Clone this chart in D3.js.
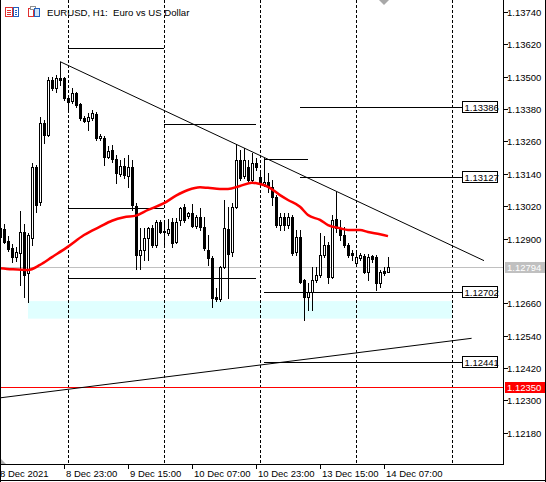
<!DOCTYPE html>
<html>
<head>
<meta charset="utf-8">
<script src="https://cdn.jsdelivr.net/npm/d3@7"></script>
<style>
  body { margin: 0; background: #fff; }
  svg { display: block; font-family: "Liberation Sans", Arial, sans-serif; }
</style>
</head>
<body>
<div id="chart"></div>
<script>
// EURUSD H1 candles, bar 0 = 8 Dec 07:00
const opens = [1.12938,1.12935,1.12892,1.12864,1.12833,1.12848,1.12924,1.12772,1.12902,1.13166,
  1.13037,1.13327,1.13284,1.13488,1.13457,1.13496,1.13494,1.13420,1.13410,1.13439,
  1.13398,1.13348,1.13337,1.13348,1.13362,1.13272,1.13274,1.13203,1.13228,1.13195,
  1.13138,1.13169,1.13132,1.13166,1.13021,1.12839,1.12857,1.12901,1.12938,1.12876,
  1.12960,1.12929,1.12922,1.12962,1.12888,1.12969,1.13016,1.12984,1.12994,1.12946,
  1.12981,1.12944,1.12857,1.12827,1.12683,1.12676,1.12793,1.12935,1.12850,1.13018,
  1.13191,1.13132,1.13166,1.13117,1.13179,1.13129,1.13102,1.13110,1.13092,1.13055,
  1.12950,1.12981,1.12950,1.12979,1.12851,1.12907,1.12746,1.12684,1.12703,1.12746,
  1.12765,1.12839,1.12876,1.12758,1.12972,1.12938,1.12913,1.12876,1.12845,1.12808,
  1.12827,1.12835,1.12777,1.12835,1.12833,1.12734,1.12780,1.12777];
const highs = [1.12946,1.12954,1.12909,1.12880,1.12869,1.13002,1.12954,1.12921,1.13179,1.13173,
  1.13352,1.13340,1.13500,1.13500,1.13506,1.13556,1.13500,1.13425,1.13457,1.13443,
  1.13403,1.13354,1.13364,1.13377,1.13369,1.13288,1.13280,1.13243,1.13247,1.13210,
  1.13191,1.13199,1.13210,1.13191,1.13032,1.12938,1.12938,1.12944,1.12950,1.12969,
  1.12969,1.12962,1.12971,1.12976,1.12976,1.13018,1.13028,1.12999,1.13028,1.12987,
  1.13013,1.12980,1.12913,1.12835,1.12717,1.12798,1.13043,1.13017,1.13032,1.13251,
  1.13228,1.13236,1.13191,1.13216,1.13198,1.13147,1.13200,1.13142,1.13117,1.13061,
  1.12994,1.12994,1.12995,1.12987,1.12932,1.12932,1.12750,1.12734,1.12796,1.12796,
  1.12919,1.12909,1.12888,1.12987,1.13074,1.12969,1.12944,1.12883,1.12857,1.12845,
  1.12846,1.12843,1.12843,1.12839,1.12839,1.12783,1.12796,1.12833];
const lows = [1.12898,1.12883,1.12854,1.12813,1.12817,1.12728,1.12684,1.12666,1.12876,1.12998,
  1.13024,1.13254,1.13280,1.13451,1.13444,1.13469,1.13414,1.13377,1.13403,1.13388,
  1.13340,1.13332,1.13302,1.13340,1.13265,1.13265,1.13173,1.13199,1.13185,1.13105,
  1.13132,1.13124,1.13091,1.13006,1.12786,1.12786,1.12820,1.12820,1.12869,1.12869,
  1.12921,1.12876,1.12913,1.12870,1.12883,1.12950,1.12962,1.12976,1.12943,1.12939,
  1.12932,1.12857,1.12802,1.12647,1.12669,1.12670,1.12791,1.12679,1.12835,1.13013,
  1.13117,1.13124,1.13110,1.13110,1.13154,1.13095,1.13095,1.13072,1.13024,1.12943,
  1.12932,1.12932,1.12939,1.12839,1.12839,1.12735,1.12598,1.12635,1.12635,1.12739,
  1.12757,1.12831,1.12734,1.12754,1.12924,1.12895,1.12869,1.12833,1.12820,1.12802,
  1.12820,1.12772,1.12746,1.12813,1.12709,1.12721,1.12765,1.12776];
const closes = [1.12904,1.12888,1.12860,1.12833,1.12849,1.12924,1.12763,1.12913,1.13166,1.13024,
  1.13327,1.13284,1.13488,1.13457,1.13494,1.13488,1.13420,1.13407,1.13439,1.13395,
  1.13346,1.13337,1.13352,1.13364,1.13272,1.13280,1.13203,1.13225,1.13195,1.13142,
  1.13169,1.13136,1.13166,1.13024,1.12839,1.12857,1.12901,1.12938,1.12876,1.12960,
  1.12925,1.12925,1.12934,1.12882,1.12962,1.13012,1.12969,1.12994,1.12946,1.12981,
  1.12943,1.12864,1.12827,1.12678,1.12676,1.12793,1.12938,1.12843,1.13018,1.13191,
  1.13124,1.13191,1.13117,1.13179,1.13166,1.13102,1.13110,1.13091,1.13055,1.12950,
  1.12981,1.12950,1.12979,1.12846,1.12907,1.12740,1.12684,1.12703,1.12746,1.12765,
  1.12839,1.12876,1.12758,1.12969,1.12938,1.12913,1.12876,1.12839,1.12839,1.12830,
  1.12839,1.12777,1.12833,1.12823,1.12734,1.12777,1.12773,1.12794];

// moving average (red)
const maBars = [0,3,7,10,13,17,21,25,28,31,34,37,41,44,47,50,52,55,57,60,63,65,67,70,72,75,77,80,82,85,87,90,92,95,97];
const maValues = [1.12790,1.12786,1.12783,1.12802,1.12831,1.12870,1.12913,1.12944,1.12966,1.12979,
  1.12985,1.13006,1.13031,1.13059,1.13080,1.13090,1.13088,1.13084,1.13084,1.13095,
  1.13107,1.13102,1.13092,1.13061,1.13043,1.13018,1.12987,1.12969,1.12950,1.12938,
  1.12932,1.12932,1.12924,1.12916,1.12909];

// axis ticks
const priceTicks = [1.12180,1.12300,1.12420,1.12540,1.12660,1.12900,1.13020,1.13140,1.13260,1.13380,1.13500,1.13620,1.13740];
const timeLabels = ["8 Dec 2021","8 Dec 23:00","9 Dec 15:00","10 Dec 07:00","10 Dec 23:00","13 Dec 15:00","14 Dec 07:00"];
const timeLabelBars = [0,16,32,48,64,80,96];
const separatorBars = [17,41,65,89,113];

// drawn objects
const levelPrices = [1.13607,1.13012,1.13325,1.12754,1.13195,1.12702,1.13386,1.13127,1.12441];
const levelStart = [17,17,41,17,66,66,75,75,66];
const levelEnd = [41,41,64,64,77,115.5,115.5,115.5,115.5];
const levelLabelled = [false,false,false,false,false,true,true,true,true];
const trendABars = [15,121];
const trendAPrices = [1.13556,1.12818];
const trendBBars = [-0.1,117.9];
const trendBPrices = [1.12309,1.12530];
const zoneBars = [7,113];
const zonePrices = [1.12668,1.12603];
const bidPrice = 1.12794;
const alertPrice = 1.12350;

const W = 546, H = 482, plotW = 503, plotH = 464;

const svg = d3.select("#chart").append("svg")
  .attr("width", W)
  .attr("height", H);

svg.append("rect").attr("width", W).attr("height", H).attr("fill", "#fff");

// bar index -> px (4px per bar)
const xScale = d3.scaleLinear().domain([0, 100]).range([0, 400]);
const yScale = d3.scaleLinear().domain([1.12180, 1.13740]).range([432.7, 12]);
const px = v => Math.round(v) + 0.5;

svg.append("clipPath").attr("id", "plotClip")
  .append("rect").attr("x", 0).attr("y", 0).attr("width", plotW).attr("height", plotH);

const plot = svg.append("g").attr("clip-path", "url(#plotClip)");

// zone rectangle
plot.append("rect")
  .attr("x", xScale(zoneBars[0]))
  .attr("y", yScale(zonePrices[0]))
  .attr("width", xScale(zoneBars[1]) - xScale(zoneBars[0]))
  .attr("height", yScale(zonePrices[1]) - yScale(zonePrices[0]))
  .attr("fill", "#e0ffff");

// day separators
plot.selectAll(".sep")
  .data(separatorBars)
  .enter()
  .append("line")
  .attr("class", "sep")
  .attr("x1", d => px(xScale(d))).attr("x2", d => px(xScale(d)))
  .attr("y1", 0).attr("y2", plotH)
  .attr("stroke", "#000")
  .attr("stroke-width", 1)
  .attr("stroke-dasharray", "3,2");

// bid line and alert line
plot.append("line")
  .attr("x1", 0).attr("x2", plotW)
  .attr("y1", px(yScale(bidPrice))).attr("y2", px(yScale(bidPrice)))
  .attr("stroke", "#c0c0c0");
plot.append("line")
  .attr("x1", 0).attr("x2", plotW)
  .attr("y1", px(yScale(alertPrice))).attr("y2", px(yScale(alertPrice)))
  .attr("stroke", "#ff0000");

// candles
const candles = d3.range(opens.length).map(i => ({
  i: i, o: opens[i], h: highs[i], l: lows[i], c: closes[i]
}));

const cg = plot.append("g").attr("class", "candles");

cg.selectAll(".wick")
  .data(candles)
  .enter()
  .append("line")
  .attr("class", "wick")
  .attr("x1", d => px(xScale(d.i))).attr("x2", d => px(xScale(d.i)))
  .attr("y1", d => Math.round(yScale(d.h))).attr("y2", d => Math.round(yScale(d.l)) + 1)
  .attr("stroke", "#000");

cg.selectAll(".body")
  .data(candles)
  .enter()
  .append("rect")
  .attr("class", "body")
  .each(function (d) {
    const top = Math.round(yScale(Math.max(d.o, d.c)));
    const bot = Math.round(yScale(Math.min(d.o, d.c)));
    const cx = Math.round(xScale(d.i));
    const el = d3.select(this);
    if (d.c >= d.o && bot - top >= 2) {
      el.attr("x", cx - 0.5).attr("y", top + 0.5)
        .attr("width", 2).attr("height", bot - top)
        .attr("fill", "#fff").attr("stroke", "#000");
    } else {
      el.attr("x", cx - 1).attr("y", top)
        .attr("width", 3).attr("height", Math.max(1, bot - top + 1))
        .attr("fill", "#000");
    }
  });

// horizontal levels
plot.selectAll(".level")
  .data(levelPrices)
  .enter()
  .append("line")
  .attr("class", "level")
  .attr("x1", (d, i) => xScale(levelStart[i]))
  .attr("x2", (d, i) => xScale(levelEnd[i]))
  .attr("y1", d => px(yScale(d))).attr("y2", d => px(yScale(d)))
  .attr("stroke", "#000");

// trend lines
const trendLine = d3.line().x(d => xScale(d[0])).y(d => yScale(d[1]));
plot.append("path")
  .attr("d", trendLine(trendABars.map((b, i) => [b, trendAPrices[i]])))
  .attr("fill", "none").attr("stroke", "#000");
plot.append("path")
  .attr("d", trendLine(trendBBars.map((b, i) => [b, trendBPrices[i]])))
  .attr("fill", "none").attr("stroke", "#000");

// moving average
const maLine = d3.line()
  .x(d => xScale(d[0]))
  .y(d => yScale(d[1]))
  .curve(d3.curveMonotoneX);
plot.append("path")
  .attr("d", maLine(maBars.map((b, i) => [b, maValues[i]])))
  .attr("fill", "none")
  .attr("stroke", "#ff0000")
  .attr("stroke-width", 2.5);

// level labels
const labelIdx = levelPrices.map((d, i) => i).filter(i => levelLabelled[i]);
const lab = plot.selectAll(".lvlLabel")
  .data(labelIdx)
  .enter()
  .append("g")
  .attr("class", "lvlLabel");
lab.append("rect")
  .attr("x", d => Math.round(xScale(levelEnd[d])) + 0.5)
  .attr("y", d => Math.round(yScale(levelPrices[d])) - 5.5)
  .attr("width", 35).attr("height", 11)
  .attr("fill", "#fff").attr("stroke", "#000");
lab.append("text")
  .attr("x", d => Math.round(xScale(levelEnd[d])) + 2.5)
  .attr("y", d => Math.round(yScale(levelPrices[d])) + 4)
  .attr("font-size", "9.5px")
  .text(d => levelPrices[d].toFixed(5));

// chart shift marker
svg.append("path").attr("d", "M379,0L389,0L384,5Z").attr("fill", "#a8a8a8");
svg.append("path").attr("d", "M0,458L6,464L0,464Z").attr("fill", "#b0b0b0");

// frame
svg.append("line").attr("x1", plotW + 0.5).attr("x2", plotW + 0.5).attr("y1", 0).attr("y2", plotH + 1).attr("stroke", "#000");
svg.append("line").attr("x1", 0).attr("x2", plotW + 1).attr("y1", plotH + 0.5).attr("y2", plotH + 0.5).attr("stroke", "#000");
svg.append("line").attr("x1", 0.5).attr("x2", 0.5).attr("y1", 0).attr("y2", H).attr("stroke", "#000");
svg.append("line").attr("x1", W - 0.5).attr("x2", W - 0.5).attr("y1", 0).attr("y2", H).attr("stroke", "#000");
svg.append("line").attr("x1", 0).attr("x2", W).attr("y1", H - 1.5).attr("y2", H - 1.5).attr("stroke", "#000");

// price axis
const pa = svg.append("g").attr("class", "price-axis");
pa.selectAll("line")
  .data(priceTicks)
  .enter()
  .append("line")
  .attr("x1", plotW + 1).attr("x2", plotW + 5)
  .attr("y1", d => px(yScale(d))).attr("y2", d => px(yScale(d)))
  .attr("stroke", "#000");
pa.selectAll("text")
  .data(priceTicks)
  .enter()
  .append("text")
  .attr("x", 507)
  .attr("y", d => Math.round(yScale(d)) + 4)
  .attr("font-size", "9.5px")
  .text(d => d.toFixed(5));

// price tags
const tags = [[bidPrice, "#c0c0c0"], [alertPrice, "#ff0000"]];
tags.forEach(t => {
  const y = Math.round(yScale(t[0]));
  svg.append("rect").attr("x", 505).attr("y", y - 5).attr("width", 40).attr("height", 11).attr("fill", t[1]);
  svg.append("text").attr("x", 507).attr("y", y + 4).attr("font-size", "9.5px")
    .attr("fill", "#fff").text(t[0].toFixed(5));
});

// time axis
const ta = svg.append("g").attr("class", "time-axis");
ta.selectAll("line")
  .data(timeLabelBars.slice(1))
  .enter()
  .append("line")
  .attr("x1", d => px(xScale(d))).attr("x2", d => px(xScale(d)))
  .attr("y1", plotH + 1).attr("y2", plotH + 5)
  .attr("stroke", "#000");
ta.selectAll("text")
  .data(timeLabels)
  .enter()
  .append("text")
  .attr("x", (d, i) => i === 0 ? 0 : xScale(timeLabelBars[i]) + 2)
  .attr("y", 477)
  .attr("font-size", "9.5px")
  .text(d => d);

// title + icons
const ic = svg.append("g");
ic.append("rect").attr("x", 5.5).attr("y", 7.5).attr("width", 7).attr("height", 9).attr("fill", "#fff").attr("stroke", "#e03030");
[10.5, 12.5, 14.5].forEach(y => ic.append("line").attr("x1", 7).attr("x2", 11).attr("y1", y).attr("y2", y).attr("stroke", "#e03030"));
ic.append("rect").attr("x", 13.5).attr("y", 7.5).attr("width", 5).attr("height", 9).attr("fill", "#fff").attr("stroke", "#2060c0");
[10.5, 12.5, 14.5].forEach(y => ic.append("line").attr("x1", 15).attr("x2", 17).attr("y1", y).attr("y2", y).attr("stroke", "#2060c0"));
ic.append("rect").attr("x", 28.5).attr("y", 8.5).attr("width", 5).attr("height", 8).attr("fill", "#fff").attr("stroke", "#e03030");
ic.append("rect").attr("x", 30.5).attr("y", 6.5).attr("width", 5).attr("height", 3).attr("fill", "#fff").attr("stroke", "#909090");
ic.append("rect").attr("x", 34.5).attr("y", 8.5).attr("width", 5).attr("height", 8).attr("fill", "#cfe3f7").attr("stroke", "#2060c0");

svg.append("text")
  .attr("x", 47).attr("y", 16)
  .attr("font-size", "9.6px")
  .style("white-space", "pre")
  .text("EURUSD, H1:  Euro vs US Dollar");
</script>
</body>
</html>
